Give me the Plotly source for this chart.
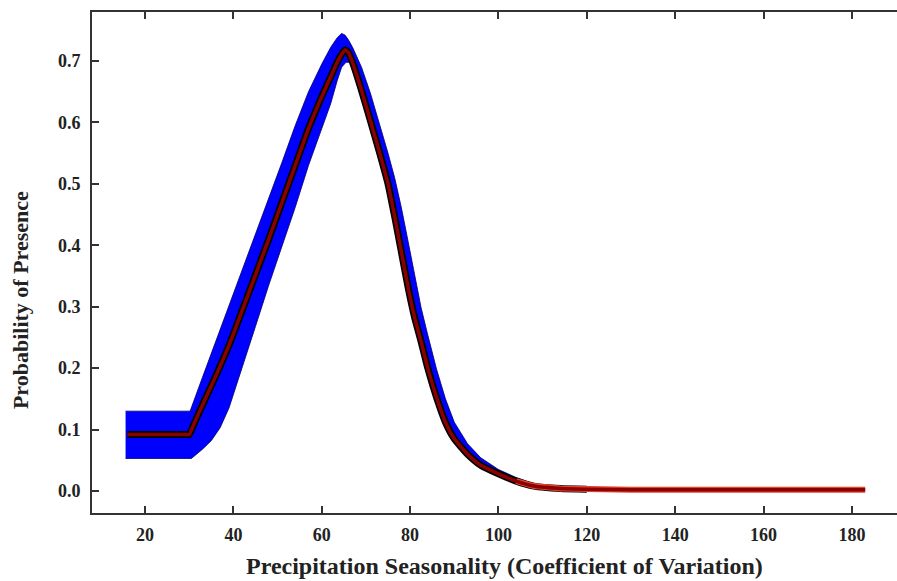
import plotly.graph_objects as go

# Mean response curve
x_mean = [16, 29, 30, 31, 33, 36, 39, 42, 45, 48, 51, 54, 57, 60, 62, 63.5, 64.5, 65.3, 66, 67, 69, 71, 73,
          75, 76.5, 78, 79.5, 81, 82.5, 84, 86, 88, 90, 93, 96, 100, 104, 108, 114, 120, 130, 150, 183]
y_mean = [0.092, 0.092, 0.092, 0.108, 0.140, 0.187, 0.237, 0.294, 0.352, 0.410, 0.470, 0.530, 0.590,
          0.642, 0.674, 0.698, 0.711, 0.718, 0.714, 0.697, 0.652, 0.603, 0.553, 0.500, 0.447, 0.390,
          0.333, 0.283, 0.243, 0.200, 0.152, 0.112, 0.085, 0.060, 0.042, 0.028, 0.016, 0.008, 0.004,
          0.003, 0.002, 0.002, 0.002]

# Upper boundary of the variability band
x_upper = [15.6, 30.2, 33, 36, 39, 42, 45, 48, 51, 54, 57, 60, 62, 63.5, 64.5, 65.3, 66, 67, 69, 71,
           73, 75, 76.5, 78, 79.5, 81, 82.5, 84, 86, 88, 90, 93, 96, 100, 104, 108, 112, 118]
y_upper = [0.130, 0.130, 0.185, 0.243, 0.300, 0.358, 0.417, 0.475, 0.535, 0.595, 0.650, 0.695, 0.722,
           0.738, 0.745, 0.742, 0.735, 0.722, 0.690, 0.648, 0.600, 0.550, 0.510, 0.462, 0.408, 0.350,
           0.298, 0.254, 0.198, 0.150, 0.112, 0.077, 0.054, 0.035, 0.022, 0.012, 0.006, 0.004]

# Lower boundary of the variability band
x_lower = [15.6, 30.5, 33, 35, 37, 39, 42, 45, 48, 51, 54, 57, 60, 62, 63.5, 64.5, 65.5, 66.5, 68,
           70, 72, 74, 76, 78, 80, 82, 84, 86, 88, 90, 93, 96, 100, 104, 108, 112, 118]
y_lower = [0.053, 0.053, 0.068, 0.082, 0.103, 0.135, 0.200, 0.268, 0.335, 0.400, 0.462, 0.530, 0.590,
           0.630, 0.668, 0.690, 0.698, 0.698, 0.668, 0.620, 0.570, 0.518, 0.455, 0.380, 0.303, 0.245,
           0.190, 0.145, 0.105, 0.078, 0.054, 0.037, 0.024, 0.013, 0.006, 0.003, 0.002]

x_ticks = [20, 40, 60, 80, 100, 120, 140, 160, 180]
y_ticks = [0.0, 0.1, 0.2, 0.3, 0.4, 0.5, 0.6, 0.7]
y_tick_labels = ["0.0", "0.1", "0.2", "0.3", "0.4", "0.5", "0.6", "0.7"]

x_title = "Precipitation Seasonality (Coefficient of Variation)"
y_title = "Probability of Presence"

fig = go.Figure()

# band polygon
band_x = x_upper + x_lower[::-1]
band_y = y_upper + y_lower[::-1]
fig.add_trace(go.Scatter(x=band_x, y=band_y, fill="toself", fillcolor="#0000ff",
                         line=dict(color="#000066", width=0.8), mode="lines",
                         hoverinfo="skip", showlegend=False))

line_shape = dict(shape="spline", smoothing=0.5)

# black outline of the mean curve (up to ~126)
n_out = sum(1 for v in x_mean if v <= 126)
fig.add_trace(go.Scatter(x=x_mean[:n_out], y=y_mean[:n_out], mode="lines",
                         line=dict(color="#000000", width=7, **line_shape),
                         showlegend=False, hoverinfo="skip"))
# lighter red halo at the tail
n_tail = sum(1 for v in x_mean if v >= 104)
fig.add_trace(go.Scatter(x=x_mean[-n_tail:], y=y_mean[-n_tail:], mode="lines",
                         line=dict(color="#e0452e", width=6),
                         showlegend=False, hoverinfo="skip"))
# dark red core
fig.add_trace(go.Scatter(x=x_mean, y=y_mean, mode="lines",
                         line=dict(color="#8b0000", width=3.5, **line_shape),
                         showlegend=False))

font_family = "Liberation Serif"
axis_col = "#333333"
txt_col = "#222222"

fig.update_layout(
    width=897, height=581,
    margin=dict(l=92, r=0, t=12, b=68),
    paper_bgcolor="white", plot_bgcolor="white",
    font=dict(family=font_family, color=txt_col),
    xaxis=dict(range=[8.0, 190.2], tickvals=x_ticks, ticktext=[str(v) for v in x_ticks],
               ticks="inside", ticklen=7, tickwidth=2, tickcolor=axis_col,
               showline=True, linecolor=axis_col, linewidth=2, mirror="ticks",
               showgrid=False, zeroline=False, ticklabelstandoff=4,
               tickfont=dict(family=font_family, size=18, color=txt_col, weight="bold")),
    yaxis=dict(range=[-0.0358, 0.7798], tickvals=y_ticks, ticktext=y_tick_labels,
               ticks="inside", ticklen=7, tickwidth=2, tickcolor=axis_col,
               showline=True, linecolor=axis_col, linewidth=2,
               showgrid=False, zeroline=False, ticklabelstandoff=6,
               tickfont=dict(family=font_family, size=18, color=txt_col, weight="bold")),
    annotations=[
        dict(text="<b>" + x_title + "</b>", xref="paper", yref="paper", x=0.513, y=-0.106,
             xanchor="center", yanchor="middle", showarrow=False,
             font=dict(family=font_family, size=24, color=txt_col)),
        dict(text="<b>" + y_title + "</b>", xref="paper", yref="paper", x=-0.0894, y=0.425,
             xanchor="center", yanchor="middle", showarrow=False, textangle=-90,
             font=dict(family=font_family, size=22, color=txt_col)),
    ],
)

fig.write_html("out.html", config={"displayModeBar": False},
               post_script="document.body.style.margin='0px';")
